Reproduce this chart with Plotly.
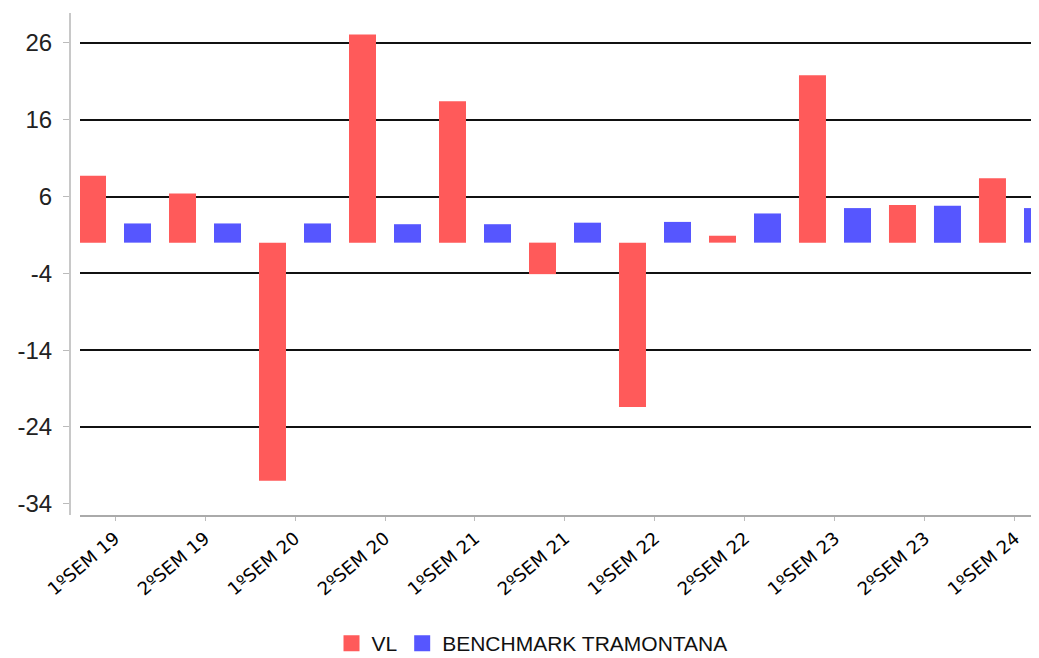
import plotly.graph_objects as go

categories = ["1ºSEM 19", "2ºSEM 19", "1ºSEM 20", "2ºSEM 20", "1ºSEM 21", "2ºSEM 21",
              "1ºSEM 22", "2ºSEM 22", "1ºSEM 23", "2ºSEM 23", "1ºSEM 24"]
vl_values = [8.7, 6.4, -31.0, 27.1, 18.4, -4.1, -21.4, 0.9, 21.8, 4.9, 8.4]
bench_values = [2.5, 2.5, 2.5, 2.4, 2.4, 2.6, 2.7, 3.8, 4.5, 4.8, 4.5]
y_ticks = [-34, -24, -14, -4, 6, 16, 26]
grid_vals = [-24, -14, -4, 6, 16, 26]

RED = "#ff5a5a"
BLUE = "#5656ff"

# the page body has a default 8px margin; size the figure so it lines up with the window
OFF = 8
EXTRA = 6
W, H = 1039 - OFF, 658 - OFF + EXTRA
ml, mr, mt, mb = 70 - OFF, 0, 13 - OFF, 143 + EXTRA
plot_w = W - ml - mr
plot_h = H - mt - mb

fig = go.Figure()
fig.add_trace(go.Bar(name="VL", x=categories, y=vl_values, showlegend=False,
                     marker=dict(color=RED, line=dict(width=0))))
fig.add_trace(go.Bar(name="BENCHMARK TRAMONTANA", x=categories, y=bench_values, showlegend=False,
                     marker=dict(color=BLUE, line=dict(width=0))))
# legend entries with square swatches
for name, col in [("VL", RED), ("BENCHMARK TRAMONTANA", BLUE)]:
    fig.add_trace(go.Scatter(name=name, x=[None], y=[None], mode="markers",
                             marker=dict(symbol="square", size=19, color=col), showlegend=True))

fig.update_layout(
    width=W, height=H,
    margin=dict(l=ml, r=mr, t=mt, b=mb, pad=0),
    paper_bgcolor="white", plot_bgcolor="white",
    barmode="group", bargap=0.0, bargroupgap=0.4,
    font=dict(family="Liberation Sans, Arial, sans-serif", color="#222"),
    xaxis=dict(
        domain=[10 / plot_w, 1], range=[-0.389, 10.267], anchor="y",
        showline=True, linecolor="#aaa", linewidth=2,
        ticks="outside", ticklen=4, tickcolor="#bbb", tickwidth=1,
        tickangle=-40, tickfont=dict(family="DejaVu Sans, sans-serif", size=18, color="#000"),
        showgrid=False, zeroline=False,
    ),
    yaxis=dict(
        anchor="free", position=0, range=[-35.46, 29.9],
        tickvals=y_ticks, ticktext=[str(v) for v in y_ticks],
        ticks="outside", ticklen=6, tickcolor="#bbb", tickwidth=1,
        showline=True, linecolor="#c8c8c8", linewidth=2,
        showgrid=False, zeroline=False,
        tickfont=dict(size=24, color="#222"), ticklabelstandoff=6,
        minor=dict(tickvals=grid_vals, showgrid=True, gridcolor="#111", gridwidth=2, ticks=""),
    ),
    legend=dict(orientation="h", x=(532 - 70) / (1039 - 70), xanchor="center",
                y=-mb / plot_h, yanchor="bottom",
                font=dict(size=21, color="#111"), itemwidth=30, traceorder="normal"),
    showlegend=True,
)

fig.write_html("out.html")
